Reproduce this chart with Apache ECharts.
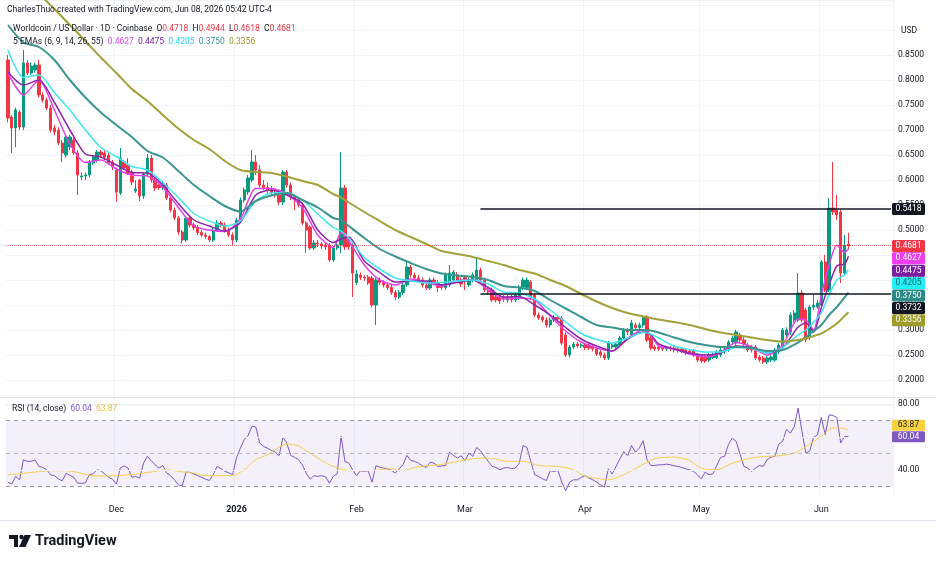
<!DOCTYPE html>
<html>
<head>
<meta charset="utf-8">
<title>Worldcoin / US Dollar - 1D</title>
<script src="https://cdn.jsdelivr.net/npm/echarts@6.0.0/dist/echarts.min.js"></script>
<style>
  html, body { margin: 0; padding: 0; background: #ffffff; }
  #chart { width: 936px; height: 563px; }
</style>
</head>
<body>
<div id="chart"></div>
<script>
// daily categories, Nov 3 2025 .. Jun 19 2026 (last candle Jun 8)
const firstDay = Date.UTC(2025, 10, 3);
const dayCount = 229;
const categories = [];
for (let i = 0; i < dayCount; i++) {
  categories.push(new Date(firstDay + i * 86400000).toISOString().slice(0, 10));
}
const monthLabels = { '12': 'Dec', '01': '2026', '02': 'Feb', '03': 'Mar', '04': 'Apr', '05': 'May', '06': 'Jun' };

// [open, close, low, high]
const ohlc = [
  [.84,.724,.715,.85],[.726,.704,.654,.73],[.704,.74,.666,.745],[.736,.706,.70,.74],[.706,.834,.70,.86],
  [.834,.814,.81,.84],[.814,.828,.81,.835],[.82,.83,.815,.835],[.83,.77,.765,.84],[.77,.76,.755,.775],
  [.76,.744,.74,.765],[.744,.70,.695,.75],[.704,.696,.69,.71],[.70,.674,.67,.705],[.674,.654,.636,.68],
  [.65,.686,.645,.69],[.666,.686,.66,.69],[.68,.654,.65,.685],[.654,.61,.57,.66],[.606,.608,.60,.615],
  [.608,.61,.60,.615],[.61,.636,.605,.64],[.634,.646,.63,.65],[.64,.656,.635,.66],[.656,.65,.645,.66],
  [.654,.646,.64,.66],[.65,.634,.63,.655],[.636,.626,.62,.64],[.62,.576,.556,.625],[.574,.644,.57,.664],
  [.636,.624,.62,.64],[.63,.614,.61,.644],[.616,.596,.59,.62],[.578,.582,.574,.60],[.60,.568,.558,.602],
  [.568,.612,.562,.616],[.612,.644,.608,.652],[.644,.60,.595,.65],[.60,.584,.578,.605],[.59,.585,.58,.595],
  [.585,.59,.58,.598],[.59,.564,.56,.594],[.564,.54,.535,.568],[.54,.524,.52,.545],[.524,.496,.49,.528],
  [.496,.48,.473,.50],[.48,.524,.476,.528],[.524,.51,.505,.53],[.51,.505,.50,.515],[.505,.495,.49,.51],
  [.495,.49,.486,.50],[.49,.487,.482,.495],[.487,.48,.476,.49],[.48,.50,.476,.504],[.50,.514,.497,.52],
  [.514,.51,.505,.518],[.51,.50,.495,.515],[.50,.49,.486,.505],[.49,.48,.47,.495],[.48,.52,.476,.524],
  [.52,.56,.516,.565],[.56,.58,.555,.585],[.576,.604,.57,.61],[.60,.636,.595,.66],[.636,.62,.61,.65],
  [.62,.59,.585,.63],[.59,.585,.58,.60],[.585,.58,.572,.595],[.58,.575,.57,.588],[.575,.57,.565,.582],
  [.57,.556,.55,.576],[.556,.616,.55,.62],[.616,.59,.585,.62],[.59,.566,.56,.595],[.566,.56,.54,.57],
  [.56,.55,.545,.565],[.55,.514,.51,.555],[.514,.50,.454,.518],[.506,.464,.46,.51],[.464,.474,.46,.48],
  [.474,.472,.466,.48],[.472,.468,.462,.476],[.47,.466,.46,.474],[.47,.44,.436,.474],[.44,.464,.436,.468],
  [.464,.47,.46,.476],[.47,.584,.454,.656],[.584,.466,.46,.59],[.48,.466,.46,.485],[.47,.414,.366,.475],
  [.395,.412,.39,.42],[.41,.405,.40,.415],[.406,.404,.398,.41],[.406,.394,.39,.41],[.404,.35,.345,.408],
  [.35,.40,.31,.405],[.40,.395,.39,.405],[.395,.39,.385,.40],[.39,.385,.38,.395],[.385,.375,.37,.39],
  [.375,.366,.36,.38],[.366,.375,.362,.38],[.375,.39,.37,.395],[.39,.426,.386,.436],[.426,.41,.405,.43],
  [.41,.404,.40,.415],[.404,.40,.395,.41],[.40,.39,.385,.405],[.39,.384,.38,.395],[.384,.40,.38,.405],
  [.40,.395,.39,.405],[.395,.385,.376,.40],[.388,.385,.38,.392],[.385,.41,.38,.415],[.39,.414,.386,.43],
  [.40,.416,.396,.42],[.41,.40,.396,.416],[.40,.392,.386,.405],[.405,.40,.38,.41],[.39,.40,.386,.405],
  [.40,.41,.395,.415],[.40,.42,.396,.444],[.42,.40,.396,.425],[.40,.38,.376,.405],[.38,.376,.37,.385],
  [.38,.36,.356,.385],[.366,.36,.355,.37],[.365,.358,.352,.37],[.366,.362,.356,.37],[.36,.365,.355,.37],
  [.366,.36,.355,.37],[.36,.37,.356,.375],[.365,.386,.36,.39],[.386,.40,.38,.405],[.385,.40,.38,.405],
  [.396,.366,.36,.40],[.37,.33,.326,.374],[.33,.324,.32,.335],[.326,.32,.315,.33],[.32,.31,.305,.325],
  [.31,.32,.305,.325],[.32,.325,.316,.33],[.325,.322,.316,.33],[.324,.274,.27,.328],[.29,.25,.246,.295],
  [.25,.266,.245,.27],[.266,.272,.262,.276],[.272,.268,.264,.276],[.268,.27,.264,.274],[.27,.265,.26,.274],
  [.27,.264,.26,.274],[.266,.262,.257,.27],[.262,.252,.248,.266],[.256,.25,.245,.26],[.25,.244,.24,.255],
  [.244,.274,.24,.278],[.266,.27,.262,.274],[.266,.272,.262,.276],[.27,.284,.266,.288],[.284,.30,.28,.304],
  [.30,.296,.29,.304],[.29,.314,.286,.32],[.31,.305,.30,.315],[.305,.31,.30,.315],[.31,.326,.305,.33],
  [.326,.28,.276,.33],[.284,.264,.26,.288],[.266,.262,.258,.27],[.266,.262,.258,.27],[.264,.262,.258,.268],
  [.262,.263,.258,.267],[.264,.262,.258,.268],[.264,.26,.255,.268],[.262,.26,.255,.266],[.262,.258,.254,.266],
  [.26,.254,.25,.264],[.258,.254,.25,.262],[.258,.25,.246,.262],[.25,.24,.236,.254],[.246,.238,.234,.25],
  [.246,.238,.234,.25],[.24,.25,.236,.254],[.245,.25,.242,.255],[.245,.256,.242,.26],[.25,.26,.246,.264],
  [.256,.262,.252,.266],[.26,.276,.256,.28],[.276,.284,.27,.288],[.274,.296,.27,.30],[.29,.28,.274,.294],
  [.28,.272,.268,.286],[.27,.26,.256,.274],[.266,.26,.255,.27],[.266,.244,.24,.27],[.246,.24,.236,.25],
  [.244,.236,.232,.248],[.236,.244,.232,.248],[.24,.246,.236,.25],[.24,.26,.236,.264],[.256,.27,.252,.274],
  [.266,.30,.262,.304],[.29,.30,.285,.305],[.296,.33,.29,.335],[.32,.334,.315,.34],[.32,.374,.316,.414],
  [.374,.32,.315,.38],[.34,.28,.276,.345],[.286,.346,.28,.35],[.346,.35,.34,.37],[.346,.354,.342,.36],
  [.35,.436,.346,.44],[.436,.38,.376,.45],[.38,.544,.376,.564],[.544,.536,.53,.636],[.54,.53,.52,.57],
  [.536,.414,.394,.54],[.414,.47,.41,.49],[.4718,.4681,.4618,.4944]
];

// EMA lines at these day indexes
const emaDays = [0,4,8,12,16,20,24,28,32,36,40,44,48,52,56,60,64,68,72,76,80,84,86,88,
  92,96,100,104,108,112,116,120,124,128,132,136,140,144,148,152,156,160,164,166,168,
  172,176,180,184,188,192,196,200,204,206,208,210,212,214,216,217];
const ema6 = [.814,.77,.80,.74,.672,.635,.64,.622,.61,.608,.585,.545,.508,.50,.497,.522,.583,.583,.572,.545,.49,.465,.495,.478,
  .43,.40,.39,.402,.395,.388,.398,.40,.38,.362,.364,.36,.328,.298,.276,.264,.258,.284,.30,.29,.268,
  .262,.252,.246,.255,.275,.266,.25,.27,.322,.32,.30,.37,.43,.47,.455,.4627];
const ema9 = [.816,.79,.80,.755,.70,.652,.646,.63,.615,.614,.59,.553,.52,.508,.498,.515,.57,.58,.57,.553,.50,.475,.482,.486,
  .438,.415,.396,.398,.398,.39,.395,.40,.385,.366,.367,.35,.33,.305,.282,.268,.258,.282,.296,.29,.272,
  .262,.254,.25,.254,.268,.265,.254,.264,.306,.314,.296,.345,.39,.428,.432,.4475];
const ema14 = [.86,.805,.81,.775,.74,.70,.665,.647,.627,.62,.595,.565,.533,.518,.508,.518,.558,.574,.575,.56,.532,.505,.498,.484,
  .445,.422,.404,.398,.394,.395,.398,.40,.392,.376,.374,.362,.34,.316,.293,.281,.274,.284,.295,.292,.284,
  .268,.261,.256,.256,.265,.263,.254,.265,.29,.30,.315,.335,.37,.40,.41,.4205];
const ema26 = [.91,.875,.866,.84,.80,.765,.735,.71,.686,.658,.645,.618,.59,.568,.548,.537,.558,.569,.574,.56,.545,.524,.52,.508,
  .484,.462,.447,.434,.422,.413,.409,.406,.40,.388,.385,.378,.36,.343,.326,.31,.305,.30,.30,.299,.295,
  .285,.276,.27,.266,.266,.264,.258,.26,.275,.286,.298,.31,.33,.346,.365,.375];
const ema55 = [1.03,1.0,.972,.942,.91,.878,.845,.814,.782,.758,.73,.703,.68,.662,.638,.62,.616,.614,.607,.598,.59,.572,.565,.555,
  .536,.518,.50,.486,.472,.458,.452,.446,.438,.43,.42,.413,.40,.388,.372,.357,.344,.334,.327,.324,.321,
  .316,.31,.302,.295,.29,.285,.28,.277,.28,.283,.288,.293,.302,.313,.328,.3356];

// RSI(14) per day, and its moving average read at some days
const rsi = [
  32.5,31.3,36.0,33.9,46.1,45.1,45.1,45.9,42.0,41.4, 40.0,37.0,36.4,34.5,33.3,37.8,36.6,35.4,31.9,31.7,
  32.1,37.0,37.6,40.0,39.4,37.4,35.4,34.3,31.3,41.0, 42.4,41.0,35.4,36.0,34.9,44.0,48.1,45.5,43.0,41.0,
  42.6,38.0,36.4,33.9,30.9,30.3,38.6,38.4,37.4,36.4, 35.4,34.3,33.5,37.0,42.0,40.6,39.0,38.2,37.0,47.1,
  53.1,58.2,60.8,66.3,65.9,56.2,54.1,53.1,51.7,50.7, 48.5,59.6,56.2,48.7,47.5,46.1,43.0,38.0,34.3,36.4,
  36.0,36.4,35.8,31.9,36.0,37.6,60.2,45.1,44.0,40.0, 36.4,39.4,39.0,39.4,32.5,42.4,41.6,41.0,40.6,39.6,
  38.0,40.6,43.0,48.7,45.7,45.1,44.0,42.4,41.4,44.6, 44.0,42.0,42.3,42.6,50.7,48.7,47.1,48.5,45.5,50.1,
  48.1,53.5,51.5,48.1,45.1,42.0,41.4,40.0,41.0,41.4, 40.6,41.0,44.0,54.7,53.5,45.1,37.0,36.0,34.5,33.5,
  39.4,39.0,39.6,32.5,27.3,32.5,33.9,33.9,35.4,36.4, 35.0,33.9,32.5,30.9,29.5,40.6,37.4,42.0,46.7,51.1,
  48.5,54.7,50.7,53.1,57.6,46.1,42.6,42.6,43.0,43.0, 43.4,43.0,42.4,42.0,41.4,40.6,40.0,39.0,37.0,34.5,
  38.6,37.0,37.6,42.6,47.5,48.1,55.2,59.2,57.2,49.5, 42.0,41.0,39.0,41.0,42.6,42.0,46.1,47.7,48.1,55.6,
  57.2,64.6,62.2,66.0,77.4,63.2,50.1,51.5,59.6,61.2, 71.7,61.2,73.3,72.9,71.7,56.2,60.2,60.04
];
const rsiMaDays = [0,3,7,11,15,18,22,26,31,34,38,41,44,48,51,55,58,61,64,67,69,72,75,77,80,83,86,89,93,96,99,
  102,105,108,112,116,120,124,129,133,137,142,146,149,153,155,159,163,167,172,176,179,183,187,192,196,199,
  203,206,210,213,215,217];
const rsiMa = [37.0,37.6,38.6,39.4,39.4,38.4,36.4,36.2,37.0,37.6,39.0,40.0,39.0,38.0,36.4,36.4,36.6,40.0,46.1,49.1,
  52.1,55.6,54.5,51.5,47.1,43.0,40.6,39.4,39.4,40.0,40.6,39.4,41.4,42.4,43.2,45.1,46.7,47.1,45.1,45.1,42.6,
  42.0,40.0,36.0,34.5,33.9,37.0,42.0,46.7,47.7,45.5,41.0,40.0,44.0,47.1,48.1,48.5,50.1,54.1,60.2,65.3,65.3,63.87];

const levelHigh = 0.5418;
const levelLow = 0.3732;
const levelStartDay = 122;
const last = ohlc[ohlc.length - 1];

const textColor = '#131722';
const upColor = '#089981';
const downColor = '#f23645';
const gridColor = '#f0f3fa';
const font = 'Roboto, "Noto Sans", sans-serif';
const emaColors = ['#e840e8', '#8e24aa', '#3fe6ef', '#3b9690', '#a3a13a'];

let chart = echarts.init(document.getElementById('chart'));

function pairs (days, values) {
  return days.map((d, i) => [categories[d], values[i]]);
}
function isMonthStart (index, value) {
  return value.slice(8) === '01';
}

const emaSeries = [ema6, ema9, ema14, ema26, ema55].map((vals, i) => ({
  name: 'EMA ' + [6, 9, 14, 26, 55][i],
  type: 'line',
  xAxisIndex: 0,
  yAxisIndex: 0,
  data: pairs(emaDays, vals),
  showSymbol: false,
  smooth: 0.25,
  silent: true,
  lineStyle: { color: emaColors[i], width: i >= 3 ? 2 : 1.5 }
}));

var option = {
  animation: false,
  backgroundColor: '#ffffff',
  textStyle: { fontFamily: font },
  grid: [
    { left: 6, right: 43, top: 0, height: 405 },
    { left: 6, right: 43, top: 398, height: 96.5 }
  ],
  xAxis: [
    {
      type: 'category', gridIndex: 0, data: categories, boundaryGap: true,
      axisLine: { show: false }, axisTick: { show: false }, axisLabel: { show: false },
      splitLine: { show: true, interval: isMonthStart, lineStyle: { color: gridColor } }
    },
    {
      type: 'category', gridIndex: 1, data: categories, boundaryGap: true,
      axisLine: { show: false }, axisTick: { show: false },
      axisLabel: {
        interval: isMonthStart, margin: 11, color: textColor, fontSize: 9, fontFamily: font,
        formatter: function (value) {
          const m = value.slice(5, 7);
          return m === '01' ? '{b|' + monthLabels[m] + '}' : monthLabels[m];
        },
        rich: { b: { fontWeight: 'bold', fontSize: 9, color: textColor, fontFamily: font } }
      },
      splitLine: { show: true, interval: isMonthStart, lineStyle: { color: gridColor } }
    }
  ],
  yAxis: [
    {
      type: 'value', gridIndex: 0, position: 'right', min: 0.15, max: 0.96, interval: 0.05,
      axisLine: { show: false }, axisTick: { show: false },
      axisLabel: {
        color: textColor, fontSize: 8.5, fontFamily: font, margin: 5,
        formatter: function (v) { return (v > 0.19 && v < 0.86) ? v.toFixed(4) : ''; }
      },
      splitLine: { show: true, lineStyle: { color: gridColor } }
    },
    {
      type: 'value', gridIndex: 1, position: 'right', min: 25, max: 83.5, interval: 5,
      axisLine: { show: false }, axisTick: { show: false },
      axisLabel: {
        color: textColor, fontSize: 8.5, fontFamily: font, margin: 5,
        formatter: function (v) { return (v === 40 || v === 60 || v === 80) ? v.toFixed(2) : ''; }
      },
      splitLine: { show: false }
    }
  ],
  series: [
    {
      name: 'WLDUSD',
      type: 'candlestick',
      xAxisIndex: 0,
      yAxisIndex: 0,
      data: ohlc,
      barWidth: '72%',
      silent: true,
      itemStyle: { color: upColor, color0: downColor, borderColor: upColor, borderColor0: downColor, borderWidth: 1 },
      markLine: {
        silent: true, symbol: 'none', label: { show: false },
        data: [
          [{ coord: [categories[levelStartDay], levelHigh], lineStyle: { color: textColor, width: 1.6, type: 'solid' } },
           { coord: [categories[dayCount - 1], levelHigh] }],
          [{ coord: [categories[levelStartDay], levelLow], lineStyle: { color: textColor, width: 1.6, type: 'solid' } },
           { coord: [categories[dayCount - 1], levelLow] }],
          { yAxis: last[1], lineStyle: { color: downColor, width: 1, type: 'dotted', opacity: 0.7 } }
        ]
      }
    },
    ...emaSeries,
    {
      name: 'RSI',
      type: 'line',
      xAxisIndex: 1,
      yAxisIndex: 1,
      data: rsi,
      showSymbol: false,
      silent: true,
      lineStyle: { color: '#7e57c2', width: 1 },
      markArea: {
        silent: true,
        itemStyle: { color: 'rgba(126, 87, 194, 0.09)' },
        data: [[{ yAxis: 30 }, { yAxis: 70 }]]
      },
      markLine: {
        silent: true, symbol: 'none', label: { show: false },
        data: [
          { yAxis: 40, lineStyle: { color: gridColor, type: 'solid', width: 1 } },
          { yAxis: 60, lineStyle: { color: gridColor, type: 'solid', width: 1 } },
          { yAxis: 80, lineStyle: { color: gridColor, type: 'solid', width: 1 } },
          { yAxis: 70, lineStyle: { color: '#9598a1', type: [4, 4], width: 1 } },
          { yAxis: 50, lineStyle: { color: '#b2b5be', type: [4, 4], width: 1 } },
          { yAxis: 30, lineStyle: { color: '#9598a1', type: [4, 4], width: 1 } }
        ]
      }
    },
    {
      name: 'RSI MA',
      type: 'line',
      xAxisIndex: 1,
      yAxisIndex: 1,
      data: pairs(rsiMaDays, rsiMa),
      showSymbol: false,
      smooth: 0.3,
      silent: true,
      lineStyle: { color: '#f5cf4c', width: 1 }
    }
  ]
};

chart.setOption(option);

function fmt (v, n) { return v.toFixed(n); }

function buildGraphics () {
  const g = [];
  const small = '8.5px ' + font;
  const tagX = 892, tagW = 33;
  g.push({ type: 'text', x: 7, y: 10, z: 50, style: {
    text: 'CharlesThuo created with TradingView.com, Jun 08, 2026 05:42 UTC-4',
    font: small, fill: textColor, verticalAlign: 'middle' } });
  g.push({ type: 'text', x: 13, y: 29, z: 50, style: {
    text: '{t|Worldcoin / US Dollar · 1D · Coinbase}  {t|O}{r|' + fmt(last[0], 4) + '}  {t|H}{r|' + fmt(last[3], 4) +
      '}  {t|L}{r|' + fmt(last[2], 4) + '}  {t|C}{r|' + fmt(last[1], 4) + '}',
    font: small, fill: textColor, verticalAlign: 'middle',
    rich: { t: { fill: textColor, font: small }, r: { fill: downColor, font: small } } } });
  const emaLast = [ema6, ema9, ema14, ema26, ema55].map(a => a[a.length - 1]);
  g.push({ type: 'text', x: 13, y: 42, z: 50, style: {
    text: '{t|5 EMAs (6, 9, 14, 26, 55)}  ' + emaLast.map((v, i) => '{e' + i + '|' + fmt(v, 4) + '}').join('  '),
    font: small, fill: textColor, verticalAlign: 'middle',
    rich: {
      t: { fill: textColor, font: small },
      e0: { fill: emaColors[0], font: small }, e1: { fill: '#7b1fa2', font: small },
      e2: { fill: '#22d3e6', font: small }, e3: { fill: emaColors[3], font: small }, e4: { fill: '#9a972e', font: small }
    } } });
  g.push({ type: 'text', x: 12, y: 409, z: 50, style: {
    text: '{t|RSI (14, close)}  {p|' + fmt(rsi[rsi.length - 1], 2) + '}  {y|' + fmt(rsiMa[rsiMa.length - 1], 2) + '}',
    font: small, fill: textColor, verticalAlign: 'middle',
    rich: { t: { fill: textColor, font: small }, p: { fill: '#7e57c2', font: small }, y: { fill: '#e8c33a', font: small } } } });
  g.push({ type: 'text', x: 901, y: 31, z: 50, style: { text: 'USD', font: small, fill: textColor, verticalAlign: 'middle' } });

  // pane separator and bottom border
  g.push({ type: 'line', z: 40, shape: { x1: 0, y1: 397.5, x2: 936, y2: 397.5 }, style: { stroke: '#e0e3eb', lineWidth: 1 } });
  g.push({ type: 'line', z: 40, shape: { x1: 0, y1: 520.5, x2: 936, y2: 520.5 }, style: { stroke: '#e0e3eb', lineWidth: 1 } });

  // price scale tags, stacked downward like the original
  const tags = [
    { v: levelHigh, bg: textColor, fg: '#ffffff' },
    { v: last[1], bg: downColor, fg: '#ffffff' },
    { v: emaLast[0], bg: '#f03cf0', fg: '#ffffff' },
    { v: emaLast[1], bg: '#7b1fa2', fg: '#ffffff' },
    { v: emaLast[2], bg: '#22f0f5', fg: '#0e6b78' },
    { v: emaLast[3], bg: '#2b8a86', fg: '#ffffff' },
    { v: levelLow, bg: textColor, fg: '#ffffff' },
    { v: emaLast[4], bg: '#9e9b2a', fg: '#ffffff' }
  ].sort((a, b) => b.v - a.v);
  let prev = -1000;
  tags.forEach(t => {
    let y = chart.convertToPixel({ yAxisIndex: 0 }, t.v);
    y = Math.max(y, prev + 12.4);
    prev = y;
    g.push({ type: 'rect', z: 60, shape: { x: tagX, y: y - 6, width: tagW, height: 12, r: 1.5 }, style: { fill: t.bg } });
    g.push({ type: 'text', z: 61, x: tagX + tagW / 2, y: y, style: { text: fmt(t.v, 4), font: small, fill: t.fg, align: 'center', verticalAlign: 'middle' } });
  });

  // RSI scale tags, stacked upward
  const rsiTags = [
    { v: rsi[rsi.length - 1], bg: '#7e57c2', fg: '#ffffff' },
    { v: rsiMa[rsiMa.length - 1], bg: '#f7d23e', fg: textColor }
  ];
  let prevR = 10000;
  rsiTags.forEach(t => {
    let y = chart.convertToPixel({ yAxisIndex: 1 }, t.v);
    y = Math.min(y, prevR - 11.5);
    prevR = y;
    g.push({ type: 'rect', z: 60, shape: { x: tagX, y: y - 5.5, width: tagW, height: 11, r: 1.5 }, style: { fill: t.bg } });
    g.push({ type: 'text', z: 61, x: tagX + tagW / 2, y: y, style: { text: fmt(t.v, 2), font: small, fill: t.fg, align: 'center', verticalAlign: 'middle' } });
  });

  // TradingView mark
  g.push({ type: 'rect', z: 50, shape: { x: 9, y: 535, width: 9, height: 4 }, style: { fill: textColor } });
  g.push({ type: 'rect', z: 50, shape: { x: 14, y: 535, width: 4, height: 12 }, style: { fill: textColor } });
  g.push({ type: 'circle', z: 50, shape: { cx: 21.5, cy: 537, r: 2.2 }, style: { fill: textColor } });
  g.push({ type: 'polygon', z: 50, shape: { points: [[24.5, 535], [31, 535], [25.5, 547], [19, 547]] }, style: { fill: textColor } });
  g.push({ type: 'text', z: 50, x: 35, y: 541.5, style: { text: 'TradingView', font: 'bold 14.5px ' + font, fill: textColor, verticalAlign: 'middle' } });
  return g;
}

chart.setOption({ graphic: buildGraphics() });

window.addEventListener('resize', function () {
  chart.resize();
});
</script>
</body>
</html>
